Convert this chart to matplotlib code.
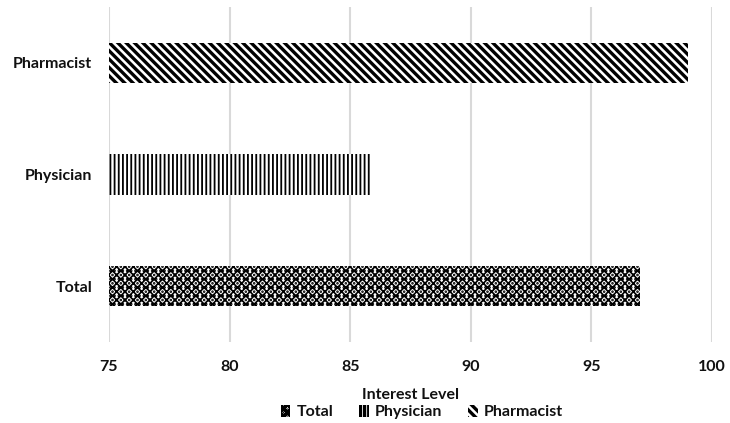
import matplotlib.pyplot as plt
import matplotlib as mpl

categories = ['Total', 'Physician', 'Pharmacist']
values = [97, 85.9, 99]
hatches = ['xxxx....', '||||', '\\\\\\\\']
hatch_lw = [1.2, 1.3, 2.4]

plt.rcParams['font.family'] = ['Lato', 'DejaVu Sans']
plt.rcParams['font.weight'] = 'bold'
plt.rcParams['font.size'] = 11.5

fig = plt.figure(figsize=(7.3, 4.23), dpi=100)
ax = fig.add_axes([0.1493, 0.1915, 0.826, 0.792])

bars = []
for i, (c, v) in enumerate(zip(categories, values)):
    plt.rcParams['hatch.linewidth'] = hatch_lw[i]
    b = ax.barh(i, v - 75, left=75, height=0.36, color='white',
                edgecolor='black', linewidth=0, hatch=hatches[i], label=c)
    bars.append(b)

ax.set_xlim(75, 100)
ax.set_ylim(-0.5, 2.5)
ax.set_xticks([75, 80, 85, 90, 95, 100])
ax.set_yticks(range(len(categories)))
ax.set_yticklabels(categories, fontweight='bold')
ax.grid(axis='x', color='#d9d9d9', linewidth=1.5)
ax.set_axisbelow(True)
for s in ax.spines.values():
    s.set_visible(False)
ax.tick_params(axis='both', length=0, colors='#111111')
ax.tick_params(axis='y', pad=12)
ax.tick_params(axis='x', pad=13)
for t in ax.get_xticklabels():
    t.set_fontweight('bold')

ax.set_xlabel('Interest Level', fontweight='bold', color='#111111', labelpad=10)

leg = fig.legend(handles=bars, labels=categories, loc='center', ncol=3,
                 bbox_to_anchor=(0.578, 0.026), frameon=False,
                 handlelength=0.6, handleheight=0.8, handletextpad=0.4,
                 columnspacing=1.6)
for t in leg.get_texts():
    t.set_color('#111111')

fig.savefig('out.png', dpi=100)
